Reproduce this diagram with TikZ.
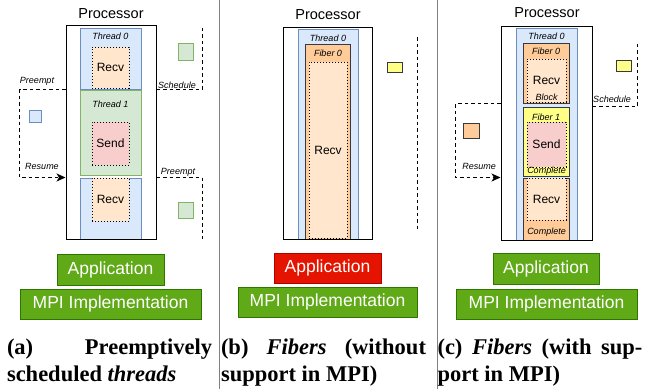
\documentclass[tikz,border=0pt]{standalone}
\usepackage{fontspec}
\setsansfont{Liberation Sans}
\newfontfamily\capfont{Liberation Serif}
\usetikzlibrary{arrows.meta}

\definecolor{thrfill}{HTML}{DAE8FC}
\definecolor{thrline}{HTML}{6C8EBF}
\definecolor{grnfill}{HTML}{D5E8D4}
\definecolor{grnline}{HTML}{82B366}
\definecolor{opfill}{HTML}{FFE6CC}
\definecolor{sendfill}{HTML}{F8CECC}
\definecolor{fibfill}{HTML}{FFCC99}
\definecolor{fibline}{HTML}{36393D}
\definecolor{yelfill}{HTML}{FFFF88}
\definecolor{appgreen}{HTML}{60A917}
\definecolor{appgreenline}{HTML}{2D7600}
\definecolor{appred}{HTML}{E51400}
\definecolor{appredline}{HTML}{B20000}

\tikzset{
sz/.style 2 args={rectangle, inner sep=0pt, minimum width=#1, minimum height=#2},
proc/.style={draw=black, line width=1pt},
thread/.style={draw=thrline, fill=thrfill, line width=1pt},
gthread/.style={draw=grnline, fill=grnfill, line width=1pt},
fiber/.style={draw=fibline, fill=fibfill, line width=1pt},
yfiber/.style={draw=fibline, fill=yelfill, line width=1pt},
op/.style={draw=black, line width=1pt, dash pattern=on 1pt off 2pt, fill=opfill,
  font=\sffamily\fontsize{12}{14}\selectfont},
sendop/.style={op, fill=sendfill},
tag/.style={font=\sffamily\itshape\fontsize{9}{10}\selectfont, inner sep=0pt},
title/.style={font=\sffamily\fontsize{14.5}{16}\selectfont, inner sep=0pt},
sched/.style={line width=1pt, dash pattern=on 3.5pt off 3pt},
resume/.style={sched, -{Stealth[length=9pt, width=8pt, inset=2.5pt]}},
layer/.style={draw=appgreenline, fill=appgreen, text=white, line width=0.8pt,
  font=\sffamily\fontsize{17.5}{20}\selectfont},
badlayer/.style={layer, draw=appredline, fill=appred},
caption/.style={text width=205pt, align=justify, inner sep=0pt, anchor=north,
  font=\capfont\bfseries\fontsize{22.5}{27}\selectfont},
}

\begin{document}
\begin{tikzpicture}[x=1pt, y=-1pt]
\useasboundingbox (0,0) rectangle (652,389);

% separators
\draw[gray, line width=0.9pt] (219,0) -- (219,389);
\draw[gray, line width=0.9pt] (437,0) -- (437,389);

% (a) preemptively scheduled threads
\node[title] (titlea) at (111,14) {Processor};
\node[thread, sz={61pt}{61pt}] (threada0) at (110.5,58.5) {};
\node[op, sz={37pt}{41pt}] (recva0) at (110.5,67.5) {Recv};
\node[tag] at (110.5,36) {Thread 0};
\node[gthread, sz={61pt}{85pt}] (threada1) at (110.5,132.5) {};
\node[tag] at (110.5,104) {Thread 1};
\node[sendop, sz={37pt}{43pt}] (senda) at (110.5,143.5) {Send};
\node[thread, sz={61pt}{61pt}] (threada2) at (110.5,208.5) {};
\node[op, sz={37pt}{43pt}] (recva2) at (110.5,199.5) {Recv};
\node[proc, sz={90pt}{214pt}] (proca) at (111,132) {};

\node[thread, sz={12.5pt}{12pt}] (ctxa0) at (35.5,116.7) {};
\node[gthread, sz={15pt}{17pt}] (ctxa1) at (186,52) {};
\node[gthread, sz={15pt}{16pt}] (ctxa2) at (186,210) {};
\coordinate (scha) at (202,27);
\coordinate (prea) at (202,239);
\draw[resume] (proca.west |- threada0.south) -- ++(-46,0) |- (proca.west |- threada2.north);
\draw[sched] (proca.east |- threada1.north) -| (scha);
\draw[sched] (proca.east |- threada2.north) -| (prea);
\node[tag] at (37,81) {Preempt};
\node[tag] at (42,166) {Resume};
\node[tag] at (177,85) {Schedule};
\node[tag] at (178,172) {Preempt};

\node[layer, sz={107pt}{31pt}] (appa) at (110.5,269.5) {Application};
\node[layer, sz={181pt}{30pt}] (mpia) at (110.5,304) {MPI Implementation};
\node[caption] (capa) at (109.5,339) {(a) Preemptively\linebreak scheduled \textit{threads}};

% (b) fibers without MPI support
\node[title] (titleb) at (328,15) {Processor};
\node[thread, sz={60pt}{210pt}] (threadb) at (328,134) {};
\node[tag] at (328,38) {Thread 0};
\node[fiber, sz={45pt}{195pt}] (fiberb) at (327.5,141.5) {};
\node[tag] at (328,53) {Fiber 0};
\node[op, sz={38pt}{176pt}] (recvb) at (328,150) {Recv};
\node[proc, sz={89pt}{212pt}] (procb) at (327.5,133) {};

\node[yfiber, sz={15pt}{10pt}] (ctxb) at (394.5,67) {};
\coordinate (schb0) at (417,37);
\coordinate (schb1) at (417,230);
\draw[sched] (schb0) -- (schb1);

\node[badlayer, sz={107pt}{30pt}] (appb) at (327.5,268) {Application};
\node[layer, sz={179pt}{30pt}] (mpib) at (327.5,302) {MPI Implementation};
\node[caption] (capb) at (323.5,339) {(b) \textit{Fibers} (without\linebreak support in MPI)};

% (c) fibers with MPI support
\node[title] (titlec) at (547,13) {Processor};
\node[thread, sz={61pt}{212pt}] (threadc) at (546.5,134) {};
\node[tag] at (546.5,36) {Thread 0};
\node[fiber, sz={46pt}{60pt}] (fiberc0) at (546,73) {};
\node[tag] at (546,51) {Fiber 0};
\node[op, sz={39pt}{43pt}] (recvc0) at (546.5,80.5) {Recv};
\node[tag] at (546.5,97) {Block};
\node[yfiber, sz={46pt}{69pt}] (fiberc1) at (546,141.5) {};
\node[tag] at (546,117) {Fiber 1};
\node[sendop, sz={39pt}{45pt}] (sendc) at (546.5,144.5) {Send};
\node[tag] at (546.5,171) {Complete};
\node[fiber, sz={46pt}{62pt}] (fiberc2) at (546,209) {};
\node[op, sz={39pt}{42pt}] (recvc2) at (546.5,199) {Recv};
\node[tag] at (546.5,232) {Complete};
\node[proc, sz={91pt}{214pt}] (procc) at (546.5,133) {};

\node[fiber, sz={16pt}{15pt}] (ctxc0) at (471,130.5) {};
\node[yfiber, sz={15pt}{11pt}] (ctxc1) at (623.5,65.5) {};
\coordinate (schc) at (637,43);
\draw[resume] (procc.west |- fiberc0.south) -- ++(-45,0) |- (procc.west |- fiberc2.north);
\draw[sched] (procc.east |- fiberc1.north) -| (schc);
\node[tag] at (479,166) {Resume};
\node[tag] at (612,99) {Schedule};

\node[layer, sz={106pt}{31pt}] (appc) at (546,268.5) {Application};
\node[layer, sz={181pt}{30pt}] (mpic) at (546.5,304) {MPI Implementation};
\node[caption] (capc) at (540,339) {(c) \textit{Fibers} (with sup-\linebreak port in MPI)};
\end{tikzpicture}
\end{document}
